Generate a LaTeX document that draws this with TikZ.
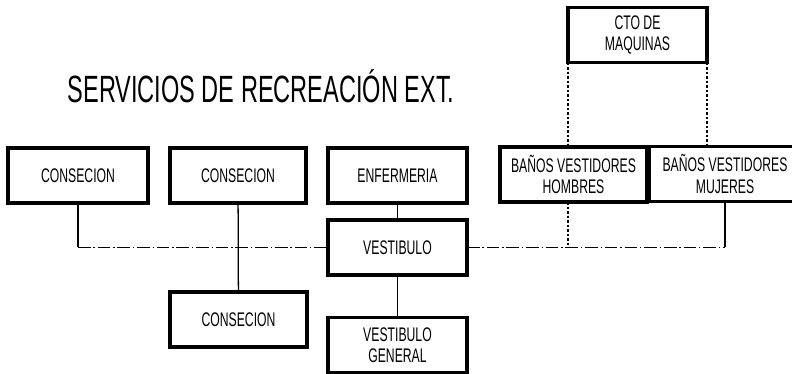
\documentclass[tikz,border=0pt]{standalone}
\usepackage{fontspec}
\newfontfamily\handfont{Liberation Sans}[FakeStretch=0.62]

\begin{document}
\begin{tikzpicture}[x=0.025cm,y=-0.025cm,
  roombox/.style={draw,line width=2.2pt,fill=white,outer sep=0pt,align=center,
    minimum width=3.475cm,minimum height=1.375cm,
    font=\handfont\fontsize{14}{15}\selectfont},
  link/.style={line width=0.9pt},
  dashdotline/.style={line width=0.9pt,dash pattern=on 9pt off 2pt on 1pt off 2pt},
  dotline/.style={line width=0.9pt,dash pattern=on 2pt off 1.2pt}]
\clip (0,0) rectangle (792,374);
\node[anchor=base,font=\handfont\fontsize{27}{30}\selectfont] (title) at (261,103) {SERVICIOS DE RECREACIÓN EXT.};
\node[roombox,minimum width=3.5cm] (con1) at (78,175.5) {CONSECION};
\node[roombox,minimum width=3.4cm] (con2) at (238,175.5) {CONSECION};
\node[roombox] (enf) at (397.5,175.5) {ENFERMERIA};
\node[roombox,minimum width=3.675cm] (hom) at (573.5,174.5) {BAÑOS VESTIDORES\\HOMBRES};
\node[roombox,minimum width=3.8cm] (muj) at (725,174) {BAÑOS VESTIDORES\\MUJERES};
\node[roombox] (cto) at (637.5,35) {CTO DE\\MAQUINAS};
\node[roombox] (vest) at (397.5,247.5) {VESTIBULO};
\node[roombox] (gen) at (397.5,345) {VESTIBULO\\GENERAL};
\node[roombox,minimum width=3.425cm] (con3) at (238.5,319.5) {CONSECION};
\draw[link] (enf) -- (vest);
\draw[link] (vest) -- (gen);
\draw[link] (con2) -- (con3);
\draw[link] (con1.south) -- (con1.south |- vest.west);
\draw[dashdotline] (con1.south |- vest.west) -- (vest.west);
\draw[dashdotline] (vest.east) -- (vest.east -| muj.south);
\draw[link] (muj.south) -- (vest.east -| muj.south);
\draw[dotline] (cto.south west) -- (cto.south west |- hom.north);
\draw[dotline] (cto.south west |- hom.south) -- (cto.south west |- vest.east);
\draw[dotline] (cto.south east) -- (cto.south east |- muj.north);
\end{tikzpicture}
\end{document}
